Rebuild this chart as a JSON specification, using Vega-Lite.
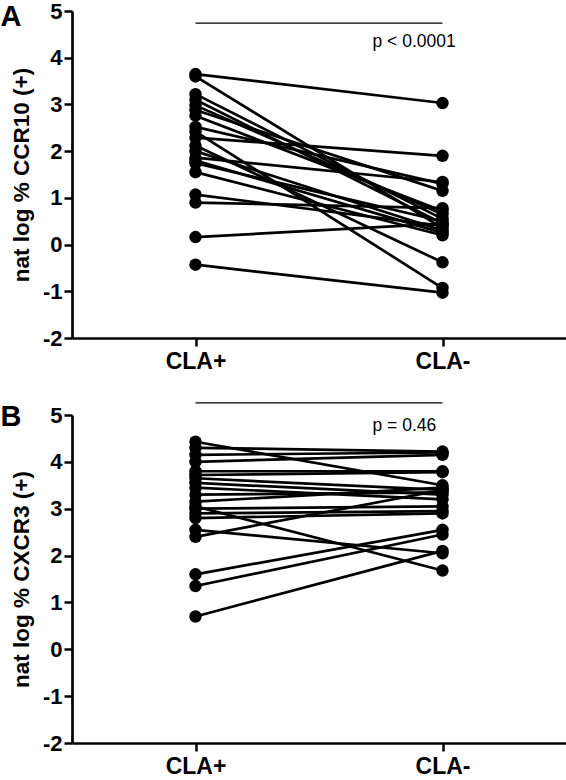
{
  "$schema": "https://vega.github.io/schema/vega-lite/v6.json",
  "padding": 0,
  "background": "white",
  "spacing": 29,
  "config": {
    "view": {"stroke": null},
    "font": "Liberation Sans",
    "axis": {
      "grid": false,
      "domainColor": "black",
      "domainWidth": 2.7,
      "tickColor": "black",
      "tickWidth": 2.5,
      "tickSize": 8,
      "labelFont": "Liberation Sans",
      "labelFontSize": 22,
      "labelFontWeight": "bold",
      "labelColor": "black",
      "titleFont": "Liberation Sans",
      "titleFontSize": 22.5,
      "titleFontWeight": "bold",
      "titleColor": "black"
    },
    "axisY": {"labelPadding": 2, "titlePadding": 9},
    "axisX": {"labelPadding": 4, "labelFontSize": 23, "labelAngle": 0, "titleFontSize": 29, "titleAngle": 0, "titleAlign": "left", "titleBaseline": "alphabetic", "titleX": -72}
  },
  "datasets": {
    "ccr10": [
      {"id": 1, "group": "CLA+", "value": 3.65}, {"id": 1, "group": "CLA-", "value": 3.03},
      {"id": 2, "group": "CLA+", "value": 3.6}, {"id": 2, "group": "CLA-", "value": 0.35},
      {"id": 3, "group": "CLA+", "value": 3.22}, {"id": 3, "group": "CLA-", "value": 0.55},
      {"id": 4, "group": "CLA+", "value": 3.1}, {"id": 4, "group": "CLA-", "value": 0.45},
      {"id": 5, "group": "CLA+", "value": 2.98}, {"id": 5, "group": "CLA-", "value": 0.65},
      {"id": 6, "group": "CLA+", "value": 2.88}, {"id": 6, "group": "CLA-", "value": 1.15},
      {"id": 7, "group": "CLA+", "value": 2.76}, {"id": 7, "group": "CLA-", "value": 0.72},
      {"id": 8, "group": "CLA+", "value": 2.52}, {"id": 8, "group": "CLA-", "value": 1.3},
      {"id": 9, "group": "CLA+", "value": 2.42}, {"id": 9, "group": "CLA-", "value": -0.93},
      {"id": 10, "group": "CLA+", "value": 2.29}, {"id": 10, "group": "CLA-", "value": 1.9},
      {"id": 11, "group": "CLA+", "value": 2.12}, {"id": 11, "group": "CLA-", "value": -0.38},
      {"id": 12, "group": "CLA+", "value": 2.0}, {"id": 12, "group": "CLA-", "value": 0.3},
      {"id": 13, "group": "CLA+", "value": 1.86}, {"id": 13, "group": "CLA-", "value": 1.34},
      {"id": 14, "group": "CLA+", "value": 1.8}, {"id": 14, "group": "CLA-", "value": 0.25},
      {"id": 15, "group": "CLA+", "value": 1.74}, {"id": 15, "group": "CLA-", "value": 0.5},
      {"id": 16, "group": "CLA+", "value": 1.55}, {"id": 16, "group": "CLA-", "value": 0.2},
      {"id": 17, "group": "CLA+", "value": 1.07}, {"id": 17, "group": "CLA-", "value": 0.4},
      {"id": 18, "group": "CLA+", "value": 0.9}, {"id": 18, "group": "CLA-", "value": 0.78},
      {"id": 19, "group": "CLA+", "value": 0.16}, {"id": 19, "group": "CLA-", "value": 0.45},
      {"id": 20, "group": "CLA+", "value": -0.43}, {"id": 20, "group": "CLA-", "value": -1.03}
    ],
    "cxcr3": [
      {"id": 1, "group": "CLA+", "value": 4.43}, {"id": 1, "group": "CLA-", "value": 3.5},
      {"id": 2, "group": "CLA+", "value": 4.3}, {"id": 2, "group": "CLA-", "value": 4.22},
      {"id": 3, "group": "CLA+", "value": 4.15}, {"id": 3, "group": "CLA-", "value": 4.2},
      {"id": 4, "group": "CLA+", "value": 4.0}, {"id": 4, "group": "CLA-", "value": 4.15},
      {"id": 5, "group": "CLA+", "value": 3.8}, {"id": 5, "group": "CLA-", "value": 3.8},
      {"id": 6, "group": "CLA+", "value": 3.72}, {"id": 6, "group": "CLA-", "value": 3.78},
      {"id": 7, "group": "CLA+", "value": 3.65}, {"id": 7, "group": "CLA-", "value": 3.4},
      {"id": 8, "group": "CLA+", "value": 3.55}, {"id": 8, "group": "CLA-", "value": 3.3},
      {"id": 9, "group": "CLA+", "value": 3.45}, {"id": 9, "group": "CLA-", "value": 3.2},
      {"id": 10, "group": "CLA+", "value": 3.3}, {"id": 10, "group": "CLA-", "value": 3.35},
      {"id": 11, "group": "CLA+", "value": 3.15}, {"id": 11, "group": "CLA-", "value": 3.45},
      {"id": 12, "group": "CLA+", "value": 3.05}, {"id": 12, "group": "CLA-", "value": 1.68},
      {"id": 13, "group": "CLA+", "value": 3.0}, {"id": 13, "group": "CLA-", "value": 3.05},
      {"id": 14, "group": "CLA+", "value": 2.9}, {"id": 14, "group": "CLA-", "value": 2.95},
      {"id": 15, "group": "CLA+", "value": 2.8}, {"id": 15, "group": "CLA-", "value": 2.9},
      {"id": 16, "group": "CLA+", "value": 2.55}, {"id": 16, "group": "CLA-", "value": 2.05},
      {"id": 17, "group": "CLA+", "value": 2.4}, {"id": 17, "group": "CLA-", "value": 3.4},
      {"id": 18, "group": "CLA+", "value": 1.6}, {"id": 18, "group": "CLA-", "value": 2.55},
      {"id": 19, "group": "CLA+", "value": 1.35}, {"id": 19, "group": "CLA-", "value": 2.45},
      {"id": 20, "group": "CLA+", "value": 0.7}, {"id": 20, "group": "CLA-", "value": 2.1}
    ]
  },
  "vconcat": [
    {
      "width": 494,
      "height": 327,
      "encoding": {
        "x": {"field": "group", "type": "nominal", "scale": {"type": "point", "padding": 0.5, "domain": ["CLA+", "CLA-"]}, "axis": {"title": "A", "titleY": -313}},
        "y": {"field": "value", "type": "quantitative", "scale": {"domain": [-2, 5], "nice": false}, "axis": {"title": "nat log % CCR10 (+)", "values": [-2, -1, 0, 1, 2, 3, 4, 5], "labelExpr": "'' + datum.value"}}
      },
      "layer": [
        {"data": {"name": "ccr10"}, "mark": {"type": "line", "color": "black", "strokeWidth": 2.7}, "encoding": {"detail": {"field": "id", "type": "nominal"}}},
        {"data": {"name": "ccr10"}, "mark": {"type": "circle", "color": "black", "opacity": 1, "size": 155}},
        {"data": {"values": [{"from": "CLA+", "to": "CLA-", "level": 4.74}]}, "mark": {"type": "rule", "color": "black", "strokeWidth": 1.3}, "encoding": {"x": {"field": "from", "type": "nominal"}, "x2": {"field": "to"}, "y": {"field": "level", "type": "quantitative"}}},
        {"data": {"values": [{"at": "CLA-", "level": 4.23, "label": "p < 0.0001"}]}, "mark": {"type": "text", "align": "left", "baseline": "alphabetic", "dx": -70, "fontSize": 17.5, "font": "Liberation Sans", "color": "black"}, "encoding": {"x": {"field": "at", "type": "nominal"}, "y": {"field": "level", "type": "quantitative"}, "text": {"field": "label"}}}
      ]
    },
    {
      "width": 494,
      "height": 328,
      "encoding": {
        "x": {"field": "group", "type": "nominal", "scale": {"type": "point", "padding": 0.5, "domain": ["CLA+", "CLA-"]}, "axis": {"title": "B", "titleY": -318}},
        "y": {"field": "value", "type": "quantitative", "scale": {"domain": [-2, 5], "nice": false}, "axis": {"title": "nat log % CXCR3 (+)", "values": [-2, -1, 0, 1, 2, 3, 4, 5], "labelExpr": "'' + datum.value"}}
      },
      "layer": [
        {"data": {"name": "cxcr3"}, "mark": {"type": "line", "color": "black", "strokeWidth": 2.7}, "encoding": {"detail": {"field": "id", "type": "nominal"}}},
        {"data": {"name": "cxcr3"}, "mark": {"type": "circle", "color": "black", "opacity": 1, "size": 155}},
        {"data": {"values": [{"from": "CLA+", "to": "CLA-", "level": 5.26}]}, "mark": {"type": "rule", "color": "black", "strokeWidth": 1.3}, "encoding": {"x": {"field": "from", "type": "nominal"}, "x2": {"field": "to"}, "y": {"field": "level", "type": "quantitative"}}},
        {"data": {"values": [{"at": "CLA-", "level": 4.66, "label": "p = 0.46"}]}, "mark": {"type": "text", "align": "left", "baseline": "alphabetic", "dx": -70, "fontSize": 17.5, "font": "Liberation Sans", "color": "black"}, "encoding": {"x": {"field": "at", "type": "nominal"}, "y": {"field": "level", "type": "quantitative"}, "text": {"field": "label"}}}
      ]
    }
  ]
}
